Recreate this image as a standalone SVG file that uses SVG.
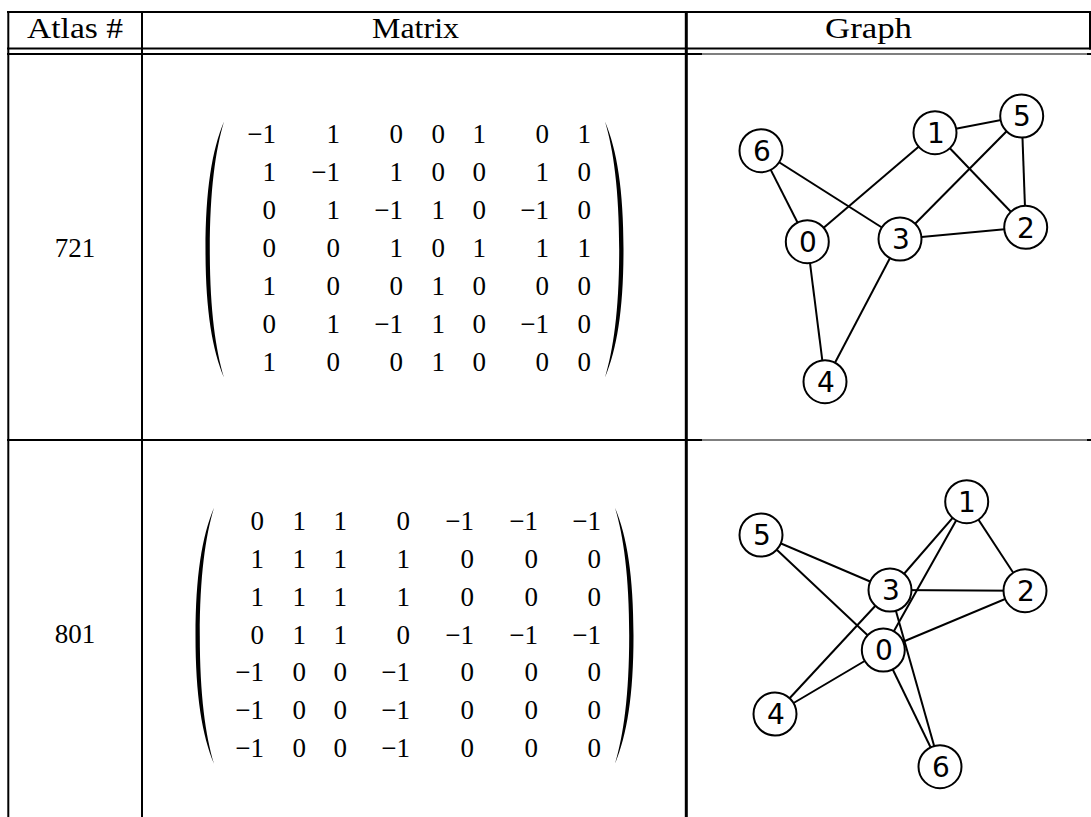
<svg xmlns="http://www.w3.org/2000/svg" width="1091" height="817" viewBox="0 0 1091 817">
<style>
.tl{stroke:#000;stroke-width:2;fill:none}
.tt{stroke:#000;stroke-width:1.2;fill:none}
.tx{font-family:"Liberation Serif","Times New Roman",serif;font-size:27px;fill:#000}
.h{font-family:"Liberation Serif","Times New Roman",serif;font-size:29px;fill:#000}
.m{font-family:"Liberation Serif","Times New Roman",serif;font-size:27px;fill:#000;text-anchor:end}
.c{text-anchor:middle}
.e{stroke:#000;stroke-width:2;fill:none}
.n circle{fill:#fff;stroke:#000;stroke-width:2}
.n text{font-family:"DejaVu Sans",sans-serif;font-size:28px;text-anchor:middle;fill:#000}
.p{fill:#000}
</style>
<rect width="1091" height="817" fill="#fff"/>
<g id="table">
<line class="tl" x1="7" y1="12" x2="1091" y2="12"/>
<line class="tl" x1="7" y1="48.5" x2="1091" y2="48.5"/>
<line class="tl" x1="7" y1="54" x2="702" y2="54"/>
<line class="tt" x1="702" y1="54" x2="1087" y2="54"/>
<line class="tl" x1="1087" y1="54" x2="1091" y2="54"/>
<line class="tl" x1="7" y1="440" x2="702" y2="440"/>
<line class="tt" x1="702" y1="440" x2="1087" y2="440"/>
<line class="tl" x1="1087" y1="440" x2="1091" y2="440"/>
<line class="tl" x1="8.3" y1="11" x2="8.3" y2="817"/>
<line class="tl" x1="142" y1="11" x2="142" y2="817"/>
<line class="tl" x1="686.3" y1="11" x2="686.3" y2="817" style="stroke-width:3"/>
<line class="tl" x1="1090" y1="11" x2="1090" y2="49.5"/>
<text class="h" x="27" y="37.5" textLength="96" lengthAdjust="spacingAndGlyphs">Atlas #</text>
<text class="h" x="372" y="37.5" textLength="87" lengthAdjust="spacingAndGlyphs">Matrix</text>
<text class="h" x="825" y="37.5" textLength="87" lengthAdjust="spacingAndGlyphs">Graph</text>
<text class="tx c" x="75" y="257">721</text>
<text class="tx c" x="75" y="643">801</text>
</g>
<g id="matrix1">
<path class="p" d="M224,121.5 C212,150 205.5,190 205.5,249.5 C205.5,309 212,349 224,377.5 C215.5,349 209.8,309 209.8,249.5 C209.8,190 215.5,150 224,121.5 Z"/>
<path class="p" d="M605,121.5 C617,150 623.5,190 623.5,249.5 C623.5,309 617,349 605,377.5 C613.5,349 619.2,309 619.2,249.5 C619.2,190 613.5,150 605,121.5 Z"/>
<g class="m">
<text y="143"><tspan x="276">−1</tspan><tspan x="340">1</tspan><tspan x="403">0</tspan><tspan x="445">0</tspan><tspan x="486">1</tspan><tspan x="549">0</tspan><tspan x="591">1</tspan></text>
<text y="181"><tspan x="276">1</tspan><tspan x="340">−1</tspan><tspan x="403">1</tspan><tspan x="445">0</tspan><tspan x="486">0</tspan><tspan x="549">1</tspan><tspan x="591">0</tspan></text>
<text y="219"><tspan x="276">0</tspan><tspan x="340">1</tspan><tspan x="403">−1</tspan><tspan x="445">1</tspan><tspan x="486">0</tspan><tspan x="549">−1</tspan><tspan x="591">0</tspan></text>
<text y="257"><tspan x="276">0</tspan><tspan x="340">0</tspan><tspan x="403">1</tspan><tspan x="445">0</tspan><tspan x="486">1</tspan><tspan x="549">1</tspan><tspan x="591">1</tspan></text>
<text y="295"><tspan x="276">1</tspan><tspan x="340">0</tspan><tspan x="403">0</tspan><tspan x="445">1</tspan><tspan x="486">0</tspan><tspan x="549">0</tspan><tspan x="591">0</tspan></text>
<text y="333"><tspan x="276">0</tspan><tspan x="340">1</tspan><tspan x="403">−1</tspan><tspan x="445">1</tspan><tspan x="486">0</tspan><tspan x="549">−1</tspan><tspan x="591">0</tspan></text>
<text y="371"><tspan x="276">1</tspan><tspan x="340">0</tspan><tspan x="403">0</tspan><tspan x="445">1</tspan><tspan x="486">0</tspan><tspan x="549">0</tspan><tspan x="591">0</tspan></text>
</g>
</g>
<g id="matrix2">
<path class="p" d="M214,507.7 C202,536 195.5,576 195.5,635.7 C195.5,695 202,735 214,763.7 C205.5,735 199.8,695 199.8,635.7 C199.8,576 205.5,536 214,507.7 Z"/>
<path class="p" d="M615,507.7 C627,536 633.5,576 633.5,635.7 C633.5,695 627,735 615,763.7 C623.5,735 629.2,695 629.2,635.7 C629.2,576 623.5,536 615,507.7 Z"/>
<g class="m">
<text y="530"><tspan x="264">0</tspan><tspan x="306">1</tspan><tspan x="347">1</tspan><tspan x="410">0</tspan><tspan x="474">−1</tspan><tspan x="538">−1</tspan><tspan x="601">−1</tspan></text>
<text y="568"><tspan x="264">1</tspan><tspan x="306">1</tspan><tspan x="347">1</tspan><tspan x="410">1</tspan><tspan x="474">0</tspan><tspan x="538">0</tspan><tspan x="601">0</tspan></text>
<text y="606"><tspan x="264">1</tspan><tspan x="306">1</tspan><tspan x="347">1</tspan><tspan x="410">1</tspan><tspan x="474">0</tspan><tspan x="538">0</tspan><tspan x="601">0</tspan></text>
<text y="644"><tspan x="264">0</tspan><tspan x="306">1</tspan><tspan x="347">1</tspan><tspan x="410">0</tspan><tspan x="474">−1</tspan><tspan x="538">−1</tspan><tspan x="601">−1</tspan></text>
<text y="681"><tspan x="264">−1</tspan><tspan x="306">0</tspan><tspan x="347">0</tspan><tspan x="410">−1</tspan><tspan x="474">0</tspan><tspan x="538">0</tspan><tspan x="601">0</tspan></text>
<text y="719"><tspan x="264">−1</tspan><tspan x="306">0</tspan><tspan x="347">0</tspan><tspan x="410">−1</tspan><tspan x="474">0</tspan><tspan x="538">0</tspan><tspan x="601">0</tspan></text>
<text y="757"><tspan x="264">−1</tspan><tspan x="306">0</tspan><tspan x="347">0</tspan><tspan x="410">−1</tspan><tspan x="474">0</tspan><tspan x="538">0</tspan><tspan x="601">0</tspan></text>
</g>
</g>
<g id="graph1-edges">
<line class="e" x1="761" y1="150.7" x2="807.3" y2="241.7"/>
<line class="e" x1="761" y1="150.7" x2="900" y2="239"/>
<line class="e" x1="807.3" y1="241.7" x2="935" y2="132.7"/>
<line class="e" x1="807.3" y1="241.7" x2="825" y2="381.7"/>
<line class="e" x1="935" y1="132.7" x2="1021.7" y2="116"/>
<line class="e" x1="935" y1="132.7" x2="1025.7" y2="227.3"/>
<line class="e" x1="1021.7" y1="116" x2="900" y2="239"/>
<line class="e" x1="1021.7" y1="116" x2="1025.7" y2="227.3"/>
<line class="e" x1="900" y1="239" x2="1025.7" y2="227.3"/>
<line class="e" x1="900" y1="239" x2="825" y2="381.7"/>
</g>
<g id="g1n0" class="n"><circle cx="807.3" cy="241.7" r="21.5"/><text x="808" y="252">0</text></g>
<g id="g1n1" class="n"><circle cx="935" cy="132.7" r="21.5"/><text x="936" y="143">1</text></g>
<g id="g1n2" class="n"><circle cx="1025.7" cy="227.3" r="21.5"/><text x="1026" y="238">2</text></g>
<g id="g1n3" class="n"><circle cx="900" cy="239" r="21.5"/><text x="901" y="249">3</text></g>
<g id="g1n4" class="n"><circle cx="825" cy="381.7" r="21.5"/><text x="826" y="392">4</text></g>
<g id="g1n5" class="n"><circle cx="1021.7" cy="116" r="21.5"/><text x="1022" y="126">5</text></g>
<g id="g1n6" class="n"><circle cx="761" cy="150.7" r="21.5"/><text x="762" y="161">6</text></g>
<g id="graph2-edges">
<line class="e" x1="883.3" y1="650" x2="966.7" y2="501.7"/>
<line class="e" x1="883.3" y1="650" x2="1025" y2="590.7"/>
<line class="e" x1="883.3" y1="650" x2="775" y2="714"/>
<line class="e" x1="883.3" y1="650" x2="761" y2="535"/>
<line class="e" x1="883.3" y1="650" x2="940" y2="766.7"/>
<line class="e" x1="966.7" y1="501.7" x2="1025" y2="590.7"/>
<line class="e" x1="966.7" y1="501.7" x2="890" y2="590"/>
<line class="e" x1="1025" y1="590.7" x2="890" y2="590"/>
<line class="e" x1="890" y1="590" x2="775" y2="714"/>
<line class="e" x1="890" y1="590" x2="761" y2="535"/>
<line class="e" x1="890" y1="590" x2="940" y2="766.7"/>
</g>
<g id="g2n0" class="n"><circle cx="883.3" cy="650" r="21.5"/><text x="884" y="660">0</text></g>
<g id="g2n1" class="n"><circle cx="966.7" cy="501.7" r="21.5"/><text x="967" y="512">1</text></g>
<g id="g2n2" class="n"><circle cx="1025" cy="590.7" r="21.5"/><text x="1026" y="601">2</text></g>
<g id="g2n3" class="n"><circle cx="890" cy="590" r="21.5"/><text x="891" y="600">3</text></g>
<g id="g2n4" class="n"><circle cx="775" cy="714" r="21.5"/><text x="776" y="724">4</text></g>
<g id="g2n5" class="n"><circle cx="761" cy="535" r="21.5"/><text x="762" y="545">5</text></g>
<g id="g2n6" class="n"><circle cx="940" cy="766.7" r="21.5"/><text x="941" y="777">6</text></g>
</svg>
